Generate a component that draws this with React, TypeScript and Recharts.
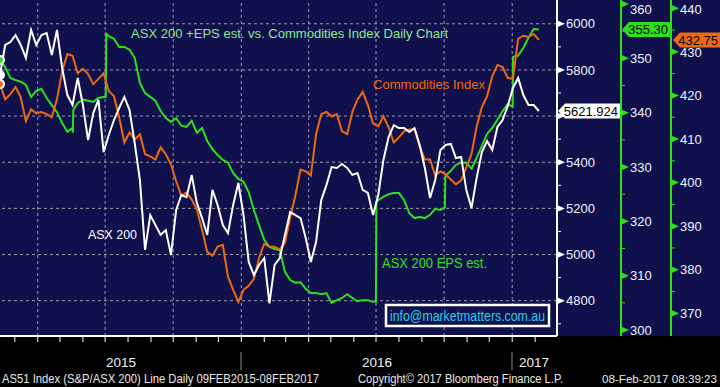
import { ComposedChart, Line, XAxis, YAxis, ReferenceLine } from 'recharts';

// weekly closes from 09-Feb-2015 (week 0) to 06-Feb-2017 (week 104)
const asx = [
  5778, 5908, 5921, 5951, 5908, 5852, 5973, 5908, 5951, 5960,
  5865, 5973, 5808, 5691, 5648, 5765, 5648, 5496, 5613, 5670,
  5444, 5518, 5583, 5635, 5683, 5626, 5483, 5323, 5020, 5171,
  5128, 5085, 5106, 4998, 5193, 5258, 5249, 5345, 5223, 5158,
  5085, 5280, 5215, 5128, 5093, 5215, 5310, 5171, 4968, 4911,
  4955, 4985, 4788, 4955, 4985, 5085, 5184, 5171, 5158, 5072,
  4968, 5054, 5236, 5301, 5379, 5375, 5392, 5375, 5345, 5353,
  5280, 5267, 5171, 5258, 5410, 5509, 5561, 5548, 5548, 5531,
  5548, 5475, 5375, 5245, 5323, 5453, 5475, 5479, 5418, 5423,
  5280, 5202, 5332, 5444, 5492, 5453, 5553, 5583, 5644, 5722,
  5765, 5691, 5648, 5648, 5621.924,
];

const eps = [
  349.7, 348.4, 346.4, 346.0, 345.7, 345.1, 342.9, 344.0, 344.4, 342.7,
  341.4, 340.1, 338.1, 336.5, 337.2, 341.8, 342.4, 342.2, 342.0, 342.7,
  342.9, 354.1, 353.6, 352.1, 352.1, 351.6, 350.1, 345.5, 343.6, 342.9,
  342.2, 340.3, 339.0, 338.3, 339.0, 337.6, 337.4, 338.5, 336.3, 337.2,
  334.8, 333.3, 332.2, 331.3, 330.8, 328.9, 327.8, 327.3, 325.4, 322.1,
  319.3, 316.6, 315.3, 314.9, 314.7, 310.7, 309.2, 308.7, 308.8, 307.6,
  306.8, 306.8, 306.6, 306.8, 305.0, 305.5, 305.9, 306.6, 305.9, 305.3,
  305.5, 305.5, 305.2, 323.9, 324.5, 325.0, 325.2, 325.2, 323.9, 321.5,
  320.6, 320.8, 320.6, 321.2, 322.3, 322.1, 328.4, 329.3, 330.4, 330.8,
  330.8, 329.7, 331.7, 333.9, 336.1, 337.2, 338.7, 340.3, 341.6, 349.4,
  350.5, 351.9, 353.8, 355.4, 355.3,
];

// EPS estimate revisions: [week, value before, value after]
const epsRevisions = [
  [14.1, 336.3, 340.5],
  [20.46, 342.9, 354.5],
  [72.6, 305.2, 323.5],
  [85.9, 322.6, 328.2],
  [99.0, 341.1, 350.3],
];

const comm = [
  422.6, 419.1, 420.3, 421.9, 419.6, 414.1, 416.8, 415.9, 416.2, 415.7,
  415.0, 419.1, 425.6, 429.5, 429.1, 425.1, 426.1, 424.9, 422.6, 423.8,
  425.1, 421.0, 419.8, 415.0, 409.2, 411.5, 409.9, 411.1, 406.5, 406.0,
  405.3, 408.1, 406.5, 404.2, 400.3, 397.0, 397.7, 396.1, 393.8, 389.2,
  384.1, 383.2, 385.3, 385.7, 378.4, 375.4, 372.6, 375.4, 376.3, 377.9,
  382.7, 386.0, 385.3, 385.3, 384.6, 386.2, 392.0, 397.0, 403.0, 402.6,
  401.6, 411.1, 415.7, 416.2, 415.2, 415.7, 411.8, 411.1, 416.2, 419.1,
  420.8, 417.8, 413.6, 412.9, 415.2, 412.7, 409.2, 410.4, 411.8, 412.2,
  412.2, 408.3, 405.3, 405.3, 401.6, 402.6, 401.9, 400.7, 399.6, 400.5,
  403.5, 406.5, 412.9, 417.3, 419.8, 424.4, 427.0, 426.5, 424.0, 423.8,
  433.0, 433.7, 433.4, 434.1, 432.75,
];

// month starts, in weeks since 09-Feb-2015
const monthTicks = [
  2.857, 7.286, 11.571, 16, 20.286, 24.714, 29.143, 33.429, 37.857, 42.143,
  46.571, 51, 55.143, 59.571, 63.857, 68.286, 72.571, 77, 81.429, 85.714,
  90.143, 94.429, 98.857, 103.286,
];
const quarterTicks = [7.286, 20.286, 33.429, 46.571, 59.571, 72.571, 85.714, 98.857];

const asxMajor = [4800, 5000, 5200, 5400, 5600, 5800, 6000];
const asxTicks = [4700, 4800, 4900, 5000, 5100, 5200, 5300, 5400, 5500, 5600, 5700, 5800, 5900, 6000];
const epsMajor = [300, 310, 320, 330, 340, 350, 360];
const epsTicks = [300, 305, 310, 315, 320, 325, 330, 335, 340, 345, 350, 355, 360];
const commMajor = [370, 380, 390, 400, 410, 420, 430, 440];
const commTicks = [370, 375, 380, 385, 390, 395, 400, 405, 410, 415, 420, 425, 430, 435, 440];

const data = asx.map((v, i) => ({ week: i, asx: v, comm: comm[i] }));

// weekly EPS plus the step changes on revision days
const epsData = [
  ...eps.map((v, i) => ({ week: i, eps: v })),
  ...epsRevisions.flatMap(([w, before, after]) => [
    { week: w - 0.05, eps: before },
    { week: w + 0.05, eps: after },
  ]),
].sort((a, b) => a.week - b.week);

const lastAsx = asx[asx.length - 1];
const lastEps = eps[eps.length - 1];
const lastComm = comm[comm.length - 1];

const FONT = '"Liberation Sans", Arial, sans-serif';
const NAVY = '#10104c';
const GREEN = '#2ee01c';
const ORANGE = '#ee6a12';
const GRID = '#9a9ab0';

// hideWithin: labels this close to the last value sit under its tag
const makeTick = (majors: number[], color: string, last: number, hideWithin: number) => (props: any) => {
  const { x, y, payload } = props;
  const v = payload.value;
  if (!majors.includes(v)) {
    return <line x1={x} x2={x + 4} y1={y} y2={y} stroke={color} strokeWidth={1} />;
  }
  const hidden = Math.abs(v - last) < hideWithin;
  return (
    <g>
      <polygon points={`${x},${y - 3.5} ${x + 8},${y} ${x},${y + 3.5}`} fill={color} />
      {!hidden && (
        <text x={x + 9} y={Math.max(y, 9)} dy="0.36em" fill="#eef0ff" fontSize={13} fontFamily={FONT}>
          {v}
        </text>
      )}
    </g>
  );
};

const Tag = (props: any) => {
  const { viewBox, dx, w, fill, text } = props;
  const x0 = viewBox.x + viewBox.width + dx;
  const cy = viewBox.y;
  const h = 15;
  const pts = `${x0},${cy} ${x0 + 7},${cy - h / 2} ${x0 + w},${cy - h / 2} ${x0 + w},${cy + h / 2} ${x0 + 7},${cy + h / 2}`;
  return (
    <g>
      <polygon points={pts} fill={fill} />
      <text x={x0 + w - 2} y={cy} dy="0.36em" textAnchor="end" fontSize={13} fill="#000" fontFamily={FONT}>
        {text}
      </text>
    </g>
  );
};

export default function App() {
  return (
    <div style={{ position: 'fixed', left: 0, top: 0, width: 720, height: 387, background: '#000', overflow: 'hidden' }}>
      <div style={{ position: 'absolute', left: 0, top: 0, width: 720, height: 336, background: NAVY }} />
      <div style={{ position: 'absolute', left: 0, top: 0 }}>
        <ComposedChart width={720} height={387} data={data} margin={{ top: 0, right: 0, bottom: 0, left: 0 }}>
          <XAxis
            dataKey="week"
            type="number"
            domain={[0, 107.5]}
            allowDataOverflow
            ticks={monthTicks}
            interval={0}
            height={51}
            axisLine={{ stroke: '#fff', strokeWidth: 2 }}
            tickLine={{ stroke: '#fff' }}
            tickSize={6}
            tick={() => <g />}
          />
          <YAxis
            yAxisId="y1asx"
            orientation="right"
            domain={[4647, 6103]}
            allowDataOverflow
            ticks={asxTicks}
            interval={0}
            width={64}
            axisLine={{ stroke: '#fff', strokeWidth: 2 }}
            tickLine={false}
            tickSize={0}
            tickMargin={0}
            tick={makeTick(asxMajor, '#fff', lastAsx, 60)}
          />
          <YAxis
            yAxisId="y2eps"
            orientation="right"
            domain={[298.9, 360.74]}
            allowDataOverflow
            ticks={epsTicks}
            interval={0}
            width={50}
            axisLine={{ stroke: GREEN, strokeWidth: 2 }}
            tickLine={false}
            tickSize={0}
            tickMargin={0}
            tick={makeTick(epsMajor, GREEN, lastEps, 2.5)}
          />
          <YAxis
            yAxisId="y3comm"
            orientation="right"
            domain={[364.8, 441.9]}
            allowDataOverflow
            ticks={commTicks}
            interval={0}
            width={49}
            axisLine={{ stroke: GREEN, strokeWidth: 2 }}
            tickLine={false}
            tickSize={0}
            tickMargin={0}
            tick={makeTick(commMajor, GREEN, lastComm, 2)}
          />
          {asxMajor.map((v) => (
            <ReferenceLine key={`h${v}`} yAxisId="y1asx" y={v} stroke={GRID} strokeDasharray="3 3" />
          ))}
          {quarterTicks.map((w) => (
            <ReferenceLine key={`v${w}`} yAxisId="y1asx" x={w} stroke={GRID} strokeDasharray="3 3" />
          ))}
          <Line
            yAxisId="y2eps"
            data={epsData}
            dataKey="eps"
            stroke={GREEN}
            strokeWidth={2}
            dot={false}
            isAnimationActive={false}
          />
          <Line yAxisId="y3comm" dataKey="comm" stroke={ORANGE} strokeWidth={2} dot={false} isAnimationActive={false} />
          <Line yAxisId="y1asx" dataKey="asx" stroke="#ffffff" strokeWidth={2} dot={false} isAnimationActive={false} />
          <ReferenceLine
            yAxisId="y1asx"
            y={lastAsx}
            stroke="none"
            label={<Tag dx={1} w={62} fill="#ffffff" text={lastAsx.toFixed(3)} />}
          />
          <ReferenceLine
            yAxisId="y2eps"
            y={lastEps}
            stroke="none"
            label={<Tag dx={65} w={48} fill={GREEN} text={lastEps.toFixed(2)} />}
          />
          <ReferenceLine
            yAxisId="y3comm"
            y={lastComm}
            stroke="none"
            label={<Tag dx={116} w={47} fill={ORANGE} text={lastComm.toFixed(2)} />}
          />
        </ComposedChart>
      </div>
      <svg width={720} height={387} style={{ position: 'absolute', left: 0, top: 0, pointerEvents: 'none' }} fontFamily={FONT}>
        <text x={131} y={37.5} fontSize={13} fill="#8fe88f" textLength={317} lengthAdjust="spacingAndGlyphs">
          ASX 200 +EPS est. vs. Commodities Index Daily Chart
        </text>
        <text x={373} y={88.5} fontSize={13.5} fill={ORANGE} textLength={112} lengthAdjust="spacingAndGlyphs">
          Commodities Index
        </text>
        <text x={88} y={238.5} fontSize={13.5} fill="#fff" textLength={49} lengthAdjust="spacingAndGlyphs">
          ASX 200
        </text>
        <text x={382} y={268} fontSize={14.5} fill={GREEN} textLength={105} lengthAdjust="spacingAndGlyphs">
          ASX 200 EPS est.
        </text>
        <rect x={386} y={305} width={163} height={21} fill={NAVY} stroke="#fff" strokeWidth={2.5} />
        <text x={390} y={321} fontSize={14} fill="#22d0ea" textLength={155} lengthAdjust="spacingAndGlyphs">
          info@marketmatters.com.au
        </text>
        <line x1={241} x2={241} y1={352} y2={370} stroke="#888" />
        <line x1={512} x2={512} y1={352} y2={370} stroke="#888" />
        <text x={121} y={366.5} fontSize={13.5} fill="#f0f0f0" textAnchor="middle">2015</text>
        <text x={377} y={366.5} fontSize={13.5} fill="#f0f0f0" textAnchor="middle">2016</text>
        <text x={534} y={366.5} fontSize={13.5} fill="#f0f0f0" textAnchor="middle">2017</text>
        <text x={2} y={383} fontSize={12.5} fill="#e8e8e8" textLength={317} lengthAdjust="spacingAndGlyphs">
          AS51 Index (S&amp;P/ASX 200) Line  Daily 09FEB2015-08FEB2017
        </text>
        <text x={358} y={383} fontSize={12.5} fill="#e8e8e8" textLength={205} lengthAdjust="spacingAndGlyphs">
          Copyright© 2017 Bloomberg Finance L.P.
        </text>
        <text x={602} y={383} fontSize={10.5} fill="#e8e8e8" textLength={115} lengthAdjust="spacingAndGlyphs">
          08-Feb-2017 08:39:23
        </text>
      </svg>
    </div>
  );
}
